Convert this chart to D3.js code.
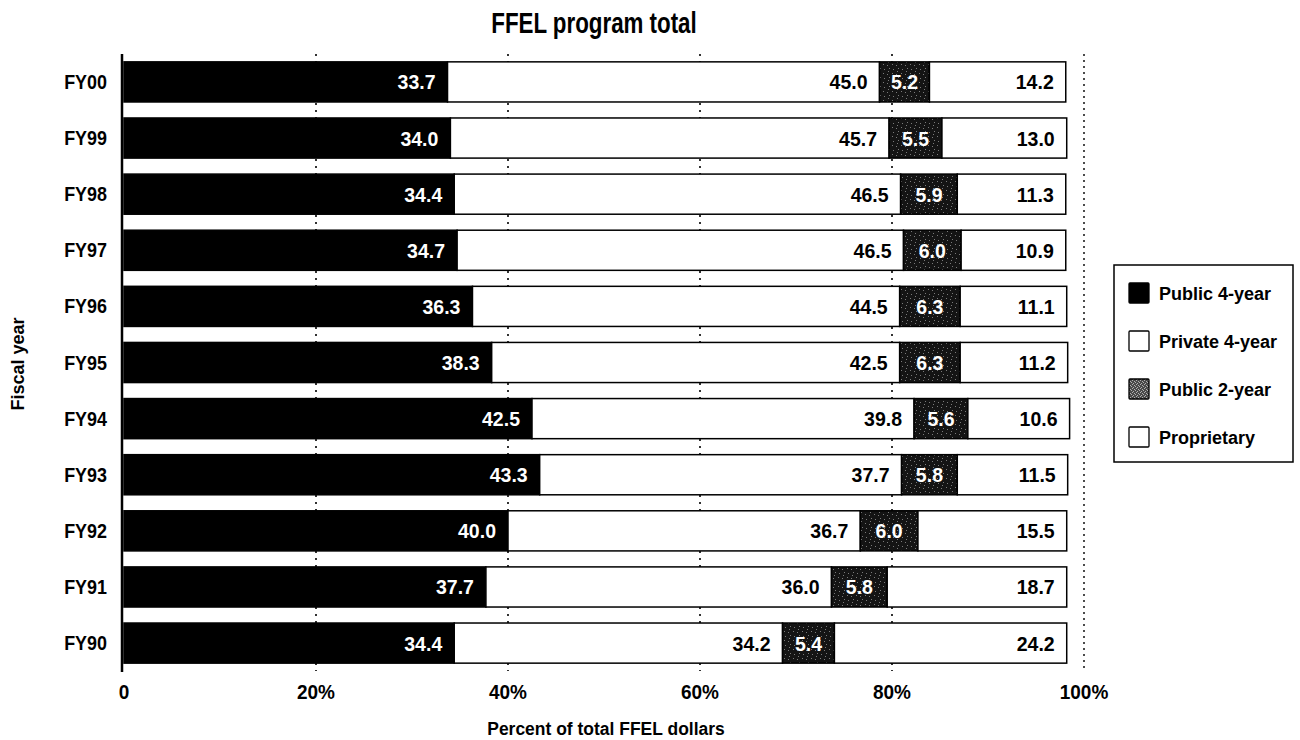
<!DOCTYPE html>
<html><head><meta charset="utf-8">
<script src="https://cdn.jsdelivr.net/npm/d3@7"></script>
<style>
html,body{margin:0;padding:0;background:#fff;}
text{font-family:"Liberation Sans",Arial,sans-serif;font-weight:bold;}
</style></head>
<body>
<svg id="chart" width="1300" height="740"></svg>
<script>
const years = ["FY00","FY99","FY98","FY97","FY96","FY95","FY94","FY93","FY92","FY91","FY90"];
const public4 = [33.7,34.0,34.4,34.7,36.3,38.3,42.5,43.3,40.0,37.7,34.4];
const private4 = [45.0,45.7,46.5,46.5,44.5,42.5,39.8,37.7,36.7,36.0,34.2];
const public2 = [5.2,5.5,5.9,6.0,6.3,6.3,5.6,5.8,6.0,5.8,5.4];
const proprietary = [14.2,13.0,11.3,10.9,11.1,11.2,10.6,11.5,15.5,18.7,24.2];
const seriesNames = ["Public 4-year","Private 4-year","Public 2-year","Proprietary"];
const xTicks = [0,20,40,60,80,100];
const xTickLabels = ["0","20%","40%","60%","80%","100%"];

const svg = d3.select("#chart");
const defs = svg.append("defs");
const pat = defs.append("pattern").attr("id","speckle").attr("patternUnits","userSpaceOnUse")
  .attr("width",9).attr("height",9);
pat.append("rect").attr("width",9).attr("height",9).attr("fill","#141414");
[[1,1],[5,2],[2,6],[7,5],[6,8]].forEach(p=>pat.append("rect").attr("x",p[0]).attr("y",p[1]).attr("width",1).attr("height",1).attr("fill","#7a7a7a"));
const pat2 = defs.append("pattern").attr("id","speckleLegend").attr("patternUnits","userSpaceOnUse")
  .attr("width",4).attr("height",4);
pat2.append("rect").attr("width",4).attr("height",4).attr("fill","#4a4a4a");
[[0,0],[2,1],[1,3],[3,2]].forEach(p=>pat2.append("rect").attr("x",p[0]).attr("y",p[1]).attr("width",1).attr("height",1).attr("fill","#b0b0b0"));

const fills = ["#000","#fff","url(#speckle)","#fff"];
const labelColors = ["#fff","#000","#fff","#000"];

const x = d3.scaleLinear().domain([0,100]).range([124,1084]);
const y = d3.scaleBand().domain(years).range([54,671]).paddingInner(0.285).paddingOuter(0.14);

const data = years.map((yr,i)=>({year:yr, public4:public4[i], private4:private4[i], public2:public2[i], proprietary:proprietary[i]}));
const keys = ["public4","private4","public2","proprietary"];
const stacked = d3.stack().keys(keys)(data);

const tr = (px,py,s)=>`translate(${px},${py}) scale(${s},1)`;

// gridlines (dotted)
svg.append("g").selectAll("line").data(xTicks.filter(t=>t>0&&t<100)).join("line")
  .attr("x1",d=>x(d)).attr("x2",d=>x(d)).attr("y1",54).attr("y2",671)
  .attr("stroke","#000").attr("stroke-width",1.6).attr("stroke-dasharray","2,5");
svg.append("line").attr("x1",x(100)).attr("x2",x(100)).attr("y1",54).attr("y2",671)
  .attr("stroke","#000").attr("stroke-width",1.4).attr("stroke-dasharray","2,4");

// bars
stacked.forEach((layer,k)=>{
  const g = svg.append("g");
  g.selectAll("rect").data(layer).join("rect")
    .attr("x",d=>x(d[0])).attr("width",d=>x(d[1])-x(d[0]))
    .attr("y",d=>y(d.data.year)).attr("height",y.bandwidth())
    .attr("fill",fills[k]).attr("stroke","#000").attr("stroke-width",1.5);
  g.selectAll("text").data(layer).join("text")
    .attr("transform",d=>tr(k===2 ? (x(d[0])+x(d[1]))/2 : x(d[1])-12, y(d.data.year)+y.bandwidth()/2+7.5, 0.93))
    .attr("text-anchor",k===2?"middle":"end")
    .attr("fill",labelColors[k]).attr("font-size",21)
    .text(d=>d3.format(".1f")(d[1]-d[0]));
});

// y axis line
svg.append("line").attr("x1",122).attr("x2",122).attr("y1",54).attr("y2",672)
  .attr("stroke","#000").attr("stroke-width",2.5);

// y tick labels
svg.append("g").selectAll("text").data(years).join("text")
  .attr("transform",d=>tr(107, y(d)+y.bandwidth()/2+7, 0.92)).attr("text-anchor","end")
  .attr("font-size",19.5).attr("fill","#000").text(d=>d);

// x tick labels
svg.append("g").selectAll("text").data(xTicks).join("text")
  .attr("transform",d=>tr(x(d), 699, 0.95)).attr("text-anchor","middle")
  .attr("font-size",20).attr("fill","#000").text((d,i)=>xTickLabels[i]);

// titles
svg.append("text").attr("transform",tr(594,33,0.77)).attr("text-anchor","middle")
  .attr("font-size",29).text("FFEL program total");
svg.append("text").attr("transform",tr(606,735,0.92)).attr("text-anchor","middle")
  .attr("font-size",19).text("Percent of total FFEL dollars");
svg.append("text").attr("transform","translate(24,364) rotate(-90) scale(0.95,1)").attr("text-anchor","middle")
  .attr("font-size",19).text("Fiscal year");

// legend
const lg = svg.append("g");
lg.append("rect").attr("x",1114).attr("y",265).attr("width",179).attr("height",197)
  .attr("fill","#fff").attr("stroke","#000").attr("stroke-width",1.5);
const legFills = ["#000","#fff","url(#speckleLegend)","#fff"];
seriesNames.forEach((n,i)=>{
  const yy = 293 + i*48;
  lg.append("rect").attr("x",1129).attr("y",yy-10).attr("width",20).attr("height",20)
    .attr("fill",legFills[i]).attr("stroke","#000").attr("stroke-width",1.3).attr("rx",1);
  lg.append("text").attr("transform",tr(1159,yy+6.5,1.0)).attr("font-size",18).text(n);
});
</script>
</body></html>
